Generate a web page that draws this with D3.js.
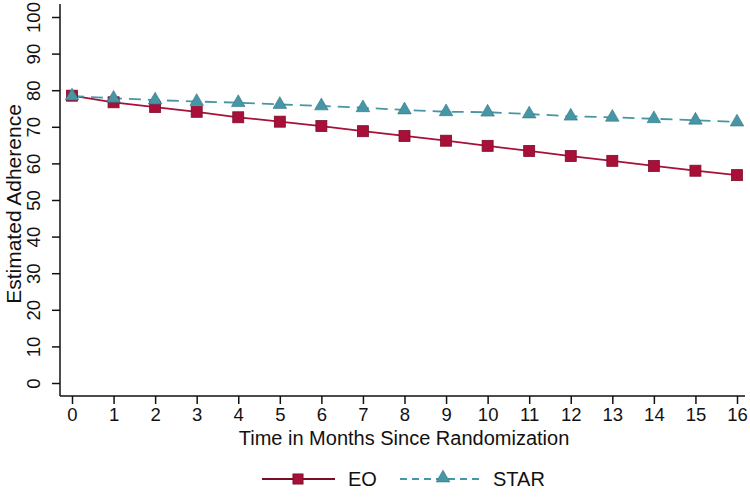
<!DOCTYPE html>
<html><head><meta charset="utf-8">
<script src="https://cdn.jsdelivr.net/npm/d3@7"></script>
<style>body{margin:0;background:#fff}svg{display:block}text{font-family:"Liberation Sans",Arial,sans-serif;fill:#111}</style>
</head><body><svg id="c" width="750" height="500"></svg>
<script>
const months = [0,1,2,3,4,5,6,7,8,9,10,11,12,13,14,15,16];
const eo   = [78.5,76.7,75.4,74.1,72.6,71.4,70.2,68.8,67.5,66.2,64.8,63.4,62.0,60.7,59.3,58.0,56.8];
const star = [78.4,77.8,77.3,76.9,76.6,76.1,75.7,75.2,74.6,74.1,74.0,73.5,72.9,72.6,72.2,71.8,71.3];
const yTicks = [0,10,20,30,40,50,60,70,80,90,100];
const seriesNames = ["EO","STAR"];

const svg = d3.select("#c");
const x = d3.scaleLinear().domain([0,16]).range([72,737]);
const y = d3.scaleLinear().domain([0,100]).range([383,17]);

// axes
const yAxis = svg.append("g").attr("transform","translate(60,0)")
  .call(d3.axisLeft(y).tickValues(yTicks).tickSize(8).tickPadding(6));
yAxis.select(".domain").attr("d","M0,4V396");
yAxis.selectAll(".tick text").attr("transform","rotate(-90)").attr("text-anchor","middle")
  .attr("x",0).attr("y",-20).attr("dy","0").style("font-size","18.5px");
const xAxis = svg.append("g").attr("transform","translate(0,396)")
  .call(d3.axisBottom(x).tickValues(months).tickFormat(d3.format("d")).tickSize(8).tickPadding(4));
xAxis.select(".domain").attr("d","M60,0H745");
xAxis.selectAll(".tick text").style("font-size","18.5px");
svg.selectAll(".domain, .tick line").attr("stroke","#111").attr("stroke-width",1.5);

svg.append("text").attr("x",404).attr("y",445).attr("text-anchor","middle")
  .style("font-size","20px").text("Time in Months Since Randomization");
svg.append("text").attr("transform","translate(21,204) rotate(-90)").attr("text-anchor","middle")
  .style("font-size","21px").text("Estimated Adherence");

const line = d3.line().x((d,i)=>x(months[i])).y(d=>y(d));
const eoCol="#a8103a", eoDark="#7d0d27", stCol="#4796a6", stDark="#2f7383";
const tri = d3.symbol().type(d3.symbolTriangle).size(80);

svg.append("path").datum(eo).attr("d",line).attr("fill","none").attr("stroke",eoCol).attr("stroke-width",1.8);
svg.append("path").datum(star).attr("d",line).attr("fill","none").attr("stroke",stCol).attr("stroke-width",1.8).attr("stroke-dasharray","12,7");

svg.append("g").selectAll("rect").data(eo).join("rect")
  .attr("x",(d,i)=>x(months[i])-5.5).attr("y",d=>y(d)-5.5).attr("width",11).attr("height",11)
  .attr("fill",eoCol).attr("stroke",eoDark).attr("stroke-width",0.8);
svg.append("g").selectAll("path").data(star).join("path")
  .attr("transform",(d,i)=>`translate(${x(months[i])},${y(d)})`).attr("d",tri)
  .attr("fill",stCol).attr("stroke",stDark).attr("stroke-width",0.6);

// legend
const lg = svg.append("g");
lg.append("line").attr("x1",262).attr("x2",335).attr("y1",479).attr("y2",479).attr("stroke",eoDark).attr("stroke-width",1.8);
lg.append("rect").attr("x",293).attr("y",474).attr("width",10).attr("height",10).attr("fill",eoCol).attr("stroke",eoDark);
lg.append("text").attr("x",348).attr("y",486).style("font-size","20px").text(seriesNames[0]);
lg.append("line").attr("x1",400).attr("x2",482).attr("y1",479).attr("y2",479).attr("stroke",stCol).attr("stroke-width",1.8).attr("stroke-dasharray","7,5");
lg.append("path").attr("transform","translate(443,478)").attr("d",tri).attr("fill",stCol).attr("stroke",stDark).attr("stroke-width",0.6);
lg.append("text").attr("x",493).attr("y",486).style("font-size","20px").text(seriesNames[1]);
</script></body></html>
